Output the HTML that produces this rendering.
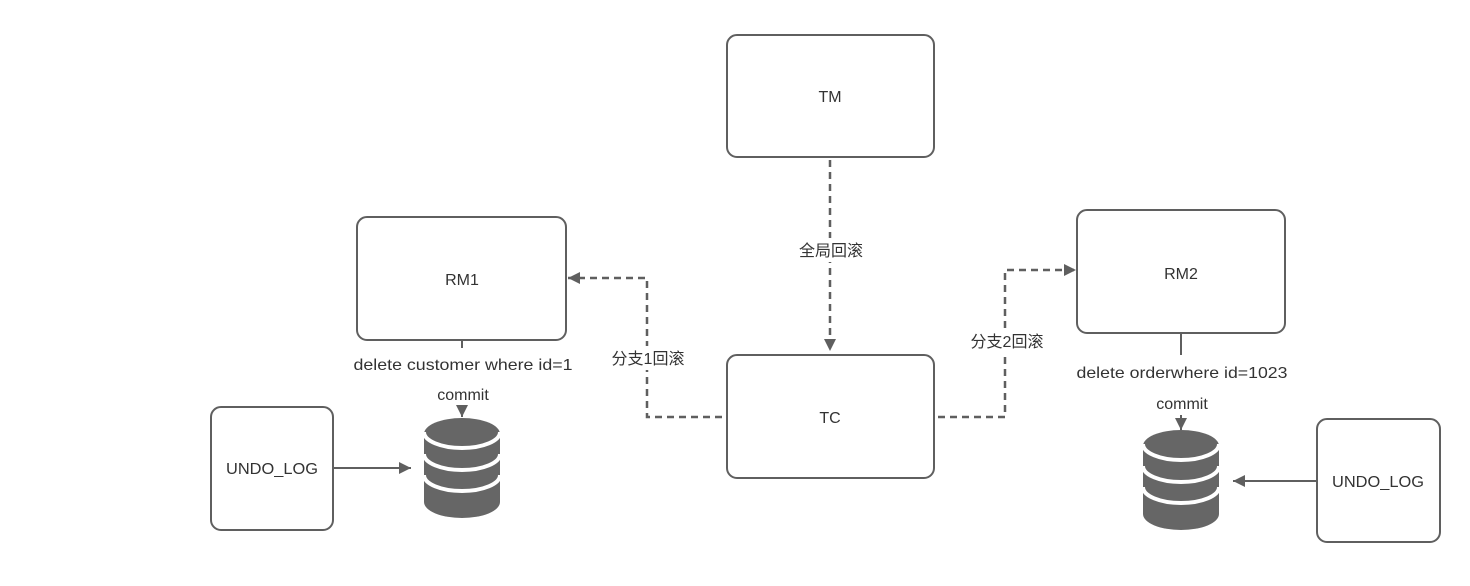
<!DOCTYPE html>
<html><head><meta charset="utf-8"><style>
body{margin:0;background:#fff;}
svg{display:block;font-family:"Liberation Sans","Noto Sans CJK SC",sans-serif;}
</style></head><body>
<svg width="1470" height="586" viewBox="0 0 1470 586">
<defs>
<marker id="a" markerWidth="13" markerHeight="13" refX="12" refY="6" orient="auto" markerUnits="userSpaceOnUse"><path d="M0,0 L12,6 L0,12 z" fill="#5f5f5f"/></marker>
<g id="db">
<path d="M-38,0 A38,16 0 0 1 38,0 L38,68 A38,16 0 0 1 -38,68 Z" fill="#666"/>
<path d="M-38,-2 A38,16 0 0 0 38,-2" fill="none" stroke="#fff" stroke-width="4"/>
<path d="M-38,20 A38,16 0 0 0 38,20" fill="none" stroke="#fff" stroke-width="4"/>
<path d="M-38,41 A38,16 0 0 0 38,41" fill="none" stroke="#fff" stroke-width="4"/>
</g>
</defs>
<g fill="#fff" stroke="#5f5f5f" stroke-width="2">
<rect x="727" y="35" width="207" height="122" rx="10"/>
<rect x="357" y="217" width="209" height="123" rx="10"/>
<rect x="727" y="355" width="207" height="123" rx="10"/>
<rect x="1077" y="210" width="208" height="123" rx="10"/>
<rect x="211" y="407" width="122" height="123" rx="10"/>
<rect x="1317" y="419" width="123" height="123" rx="10"/>
</g>
<g fill="none" stroke="#5f5f5f" stroke-width="2.5" stroke-dasharray="7,5">
<path d="M830,160 V351" marker-end="url(#a)"/>
<path d="M722,417 H647 V278 H568" marker-end="url(#a)"/>
<path d="M938,417 H1005 V270 H1076" marker-end="url(#a)"/>
</g>
<g fill="none" stroke="#5f5f5f" stroke-width="2">
<path d="M462,340 V348"/>
<path d="M462,405 V417" marker-end="url(#a)"/>
<path d="M1181,333 V355"/>
<path d="M1181,415 V430" marker-end="url(#a)"/>
<path d="M333,468 H411" marker-end="url(#a)"/>
<path d="M1317,481 H1233" marker-end="url(#a)"/>
</g>
<use href="#db" x="462" y="434"/>
<use href="#db" x="1181" y="446"/>
<g font-size="16" fill="#333" text-anchor="middle">
<text x="830" y="102">TM</text>
<text x="462" y="285">RM1</text>
<text x="830" y="423">TC</text>
<text x="1181" y="279">RM2</text>
<text x="272" y="474" textLength="92" lengthAdjust="spacingAndGlyphs">UNDO_LOG</text>
<text x="1378" y="487" textLength="92" lengthAdjust="spacingAndGlyphs">UNDO_LOG</text>
<g fill="#fff" stroke="none"><rect x="794" y="238" width="74" height="24"/><rect x="606" y="346" width="84" height="24"/><rect x="965" y="329" width="84" height="24"/></g>
<text x="831" y="256">全局回滚</text>
<text x="648" y="364">分支1回滚</text>
<text x="1007" y="347">分支2回滚</text>
<text x="463" y="370" textLength="219" lengthAdjust="spacingAndGlyphs">delete customer where id=1</text>
<text x="463" y="400">commit</text>
<text x="1182" y="378" textLength="211" lengthAdjust="spacingAndGlyphs">delete orderwhere id=1023</text>
<text x="1182" y="409">commit</text>
</g>
</svg>
</body></html>
